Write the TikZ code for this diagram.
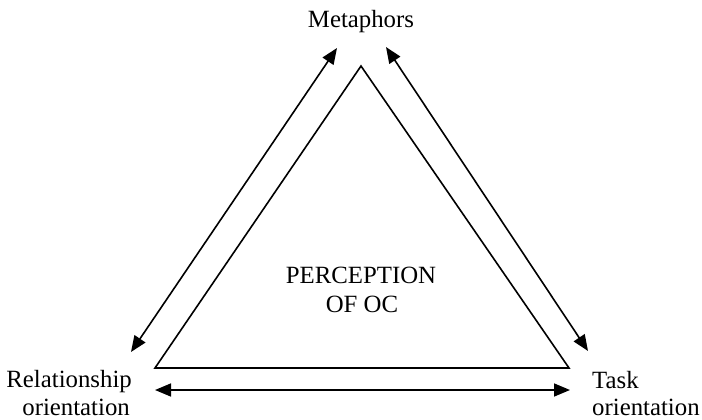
\documentclass[tikz,border=0pt]{standalone}
\usepackage{fontspec}
\setmainfont{Liberation Serif}
\usetikzlibrary{arrows.meta}
\begin{document}
\begin{tikzpicture}[x=1pt,y=-1pt,
  lbl/.style={inner sep=0pt,font=\fontsize{24.8}{29}\selectfont},
  edge/.style={line width=1.6pt},
  dbl/.style={line width=1.6pt,{Triangle[length=16pt,width=13pt]}-{Triangle[length=16pt,width=13pt]}}]
\useasboundingbox (0,0) rectangle (702,420);
% triangle vertices
\coordinate (apex) at (361,66);
\coordinate (bl) at (155,368);
\coordinate (br) at (569,368);
\draw[edge,line join=miter] (apex) -- (bl) -- (br) -- cycle;
% arrow ends
\coordinate (l1) at (337,48);
\coordinate (l2) at (131,352);
\coordinate (r1) at (386,47);
\coordinate (r2) at (588,351);
\coordinate (b1) at (155,390);
\coordinate (b2) at (570,390);
\draw[dbl] (l1) -- (l2);
\draw[dbl] (r1) -- (r2);
\draw[dbl] (b1) -- (b2);
% labels
\node[lbl,anchor=base] (meta) at (361,28) {Metaphors};
\node[lbl,anchor=base] (perc1) at (361,283) {PERCEPTION};
\node[lbl,anchor=base] (perc2) at (362,312) {OF OC};
\node[lbl,anchor=base east] (rel1) at (132,387) {Relationship};
\node[lbl,anchor=base east] (rel2) at (130,415) {orientation};
\node[lbl,anchor=base west] (task1) at (592,388) {Task};
\node[lbl,anchor=base west] (task2) at (592,415) {orientation};
\end{tikzpicture}
\end{document}
